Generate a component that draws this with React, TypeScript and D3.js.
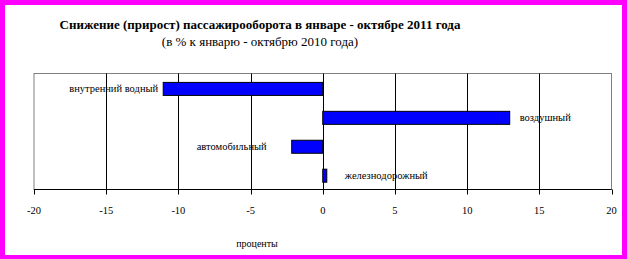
import React from "react";
import * as d3 from "d3";

const title = "Снижение (прирост) пассажирооборота в январе - октябре 2011 года";
const subtitle = "(в % к январю - октябрю 2010 года)";
const axisTitle = "проценты";
const categories = ["внутренний водный", "воздушный", "автомобильный", "железнодорожный"];
const values = [-11.05, 12.95, -2.15, 0.28];
const xTicks = [-20, -15, -10, -5, 0, 5, 10, 15, 20];
// label offset from the bar end (presentation)
const labelDx = [-5, 10, -25, 18];

const W = 627;
const H = 259;
const plot = { left: 34, right: 611.5, top: 73.5, bottom: 189.5 };
const font = "Liberation Serif, Tinos, Times New Roman, DejaVu Serif, serif";

export default function App() {
  const x = d3.scaleLinear().domain([-20, 20]).range([plot.left, plot.right]);
  const y = d3
    .scaleBand<string>()
    .domain(categories)
    .range([plot.top + 0.8, plot.bottom + 0.8])
    .paddingInner(0.55)
    .paddingOuter(0.28);

  const txt = (size: number, bold = false): React.CSSProperties => ({
    fontFamily: font,
    fontSize: size,
    fontWeight: bold ? "bold" : "normal",
  });

  return (
    <svg
      width={W}
      height={H}
      style={{ position: "absolute", left: 0, top: 0, background: "#fff" }}
    >
      <rect x={0} y={0} width={W} height={H} fill="#ff00ff" />
      <rect x={5} y={5} width={617} height={250} fill="#ffffff" />

      <text x={260} y={29} textAnchor="middle" style={txt(13, true)} fill="#000">
        {title}
      </text>
      <text x={260} y={46} textAnchor="middle" style={txt(13)} fill="#000">
        {subtitle}
      </text>

      {/* plot border */}
      <rect
        x={plot.left}
        y={plot.top}
        width={plot.right - plot.left}
        height={plot.bottom - plot.top}
        fill="none"
        stroke="#808080"
        strokeWidth={1}
      />

      {/* gridlines */}
      {xTicks.slice(1, -1).map((t) => (
        <line
          key={"g" + t}
          x1={Math.round(x(t)) + 0.5}
          x2={Math.round(x(t)) + 0.5}
          y1={plot.top}
          y2={plot.bottom}
          stroke="#000"
          strokeWidth={1}
        />
      ))}

      {/* bars */}
      {categories.map((c, i) => {
        const v = values[i];
        const x0 = x(Math.min(0, v));
        const x1 = x(Math.max(0, v));
        return (
          <rect
            key={c}
            x={x0}
            y={y(c)!}
            width={x1 - x0}
            height={y.bandwidth()}
            fill="#0000ff"
            stroke="#000"
            strokeWidth={1}
          />
        );
      })}

      {/* bar labels */}
      {categories.map((c, i) => {
        const v = values[i];
        const end = x(v);
        const neg = v < 0;
        return (
          <text
            key={"l" + c}
            x={end + labelDx[i]}
            y={y(c)! + y.bandwidth() / 2 + 3.5}
            textAnchor={neg ? "end" : "start"}
            style={txt(10.5)}
            fill="#000"
          >
            {c}
          </text>
        );
      })}

      {/* x axis */}
      <line
        x1={plot.left}
        x2={plot.right}
        y1={plot.bottom}
        y2={plot.bottom}
        stroke="#000"
        strokeWidth={1}
      />
      {xTicks.map((t) => (
        <g key={"t" + t}>
          <line
            x1={Math.round(x(t)) + 0.5}
            x2={Math.round(x(t)) + 0.5}
            y1={plot.bottom}
            y2={plot.bottom + 5}
            stroke="#000"
            strokeWidth={1}
          />
          <text x={x(t)} y={214} textAnchor="middle" style={txt(10.5)} fill="#000">
            {t}
          </text>
        </g>
      ))}

      <text x={257} y={247} textAnchor="middle" style={txt(10)} fill="#000">
        {axisTitle}
      </text>
    </svg>
  );
}
